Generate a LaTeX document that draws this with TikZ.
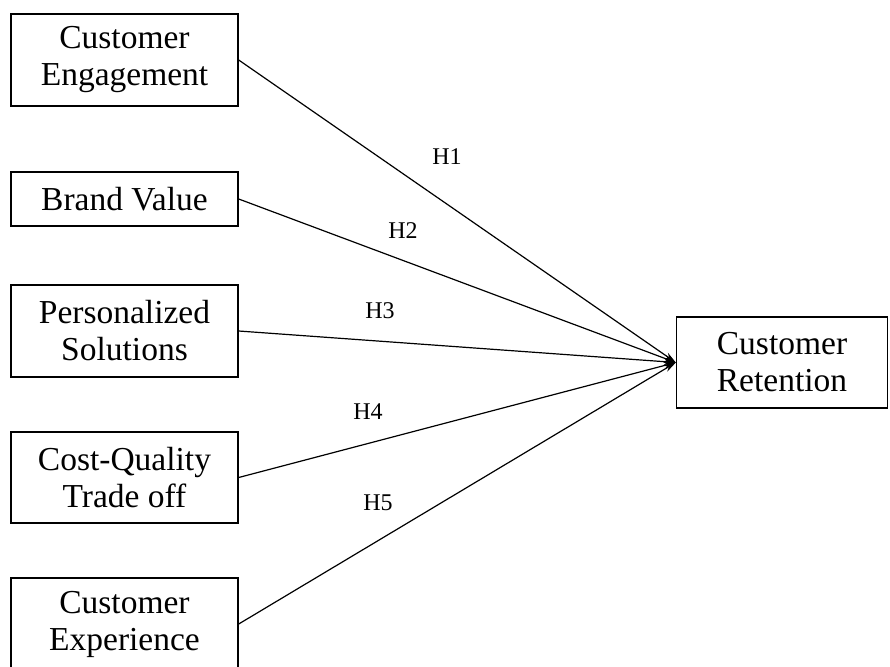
\documentclass[tikz,border=0pt]{standalone}
\usepackage{fontspec}
\setmainfont{Liberation Serif}
\usetikzlibrary{arrows.meta}
\begin{document}
\begin{tikzpicture}[x=1pt,y=-1pt,
  boxstyle/.style={draw=black,line width=1.4pt,fill=white,align=center,inner sep=0pt,
    font=\fontsize{33.5}{37}\selectfont},
  lbl/.style={font=\fontsize{24}{27}\selectfont,inner sep=0pt},
  link/.style={draw=black,line width=1.2pt,-{Stealth[length=12pt,width=7pt]}}]
\useasboundingbox (0,0) rectangle (890,666);
\fill[white] (0,0) rectangle (890,666);
\node[boxstyle,minimum width=227pt,minimum height=92pt] (ce) at (124.5,60) {Customer\\Engagement};
\node[boxstyle,minimum width=227pt,minimum height=54pt] (bv) at (124.5,199) {Brand Value};
\node[boxstyle,minimum width=227pt,minimum height=92pt] (ps) at (124.5,331) {Personalized\\Solutions};
\node[boxstyle,minimum width=227pt,minimum height=91pt] (cq) at (124.5,477.5) {Cost-Quality\\Trade off};
\node[boxstyle,minimum width=227pt,minimum height=92pt] (cx) at (124.5,624) {Customer\\Experience};
\node[boxstyle,minimum width=211pt,minimum height=91pt] (cr) at (782,362.5) {Customer\\Retention};
\draw[link] (ce.east) -- (cr.west);
\draw[link] (bv.east) -- (cr.west);
\draw[link] (ps.east) -- (cr.west);
\draw[link] (cq.east) -- (cr.west);
\draw[link] (cx.east) -- (cr.west);
\node[lbl] (h1) at (447,157) {H1};
\node[lbl] (h2) at (403,231) {H2};
\node[lbl] (h3) at (380,311) {H3};
\node[lbl] (h4) at (368,412) {H4};
\node[lbl] (h5) at (378,503) {H5};
\end{tikzpicture}
\end{document}
